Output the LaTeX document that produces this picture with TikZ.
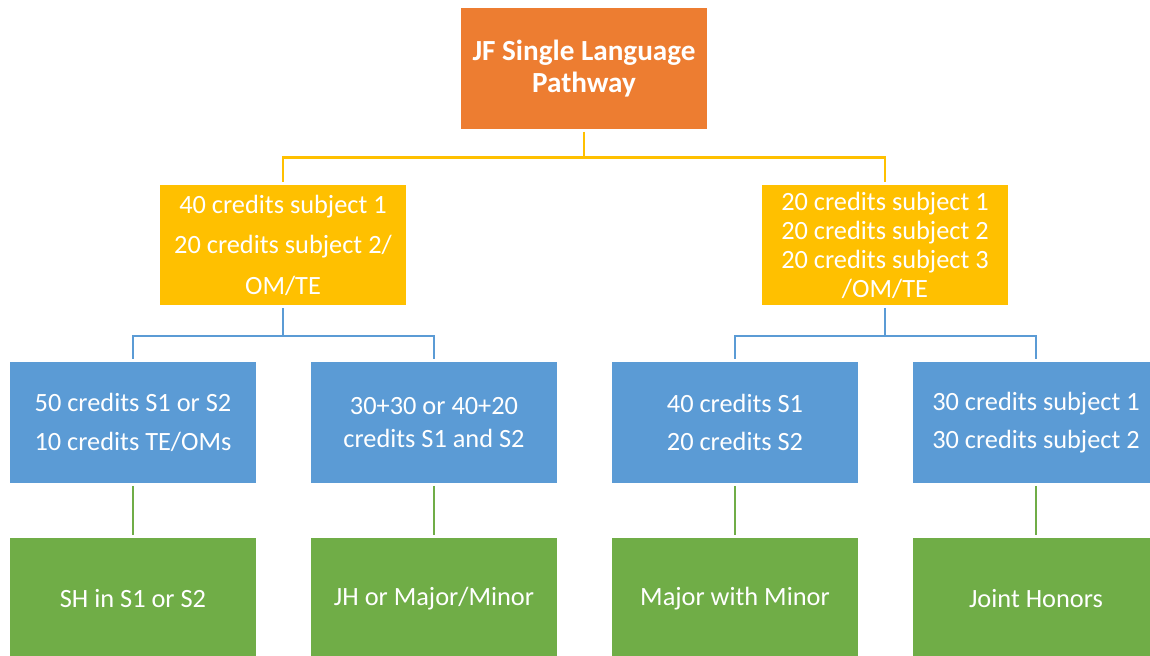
\documentclass[tikz,border=0pt]{standalone}
\usepackage{fontspec}
\setmainfont{Carlito}
\definecolor{boxorange}{HTML}{ED7D31}
\definecolor{boxyellow}{HTML}{FFC000}
\definecolor{boxblue}{HTML}{5B9BD5}
\definecolor{boxgreen}{HTML}{70AD47}
\begin{document}
\begin{tikzpicture}[x=0.02cm,y=-0.02cm,
	box/.style={shape=rectangle,minimum width=4.92cm,minimum height=2.42cm,inner sep=0pt,text=white,align=center},
	root/.style={box,fill=boxorange,font=\fontsize{16.6}{18.5}\selectfont\bfseries},
	level/.style={box,fill=boxyellow},
	credit/.style={box,fill=boxblue,font=\fontsize{15}{22}\selectfont},
	result/.style={box,fill=boxgreen,font=\fontsize{15}{17}\selectfont},
	link/.style={line width=1.5pt,shorten <=1.5pt,shorten >=1.5pt}]
	\clip (0,0) rectangle (1150,656);
	\useasboundingbox (0,0) rectangle (1150,656);

	\node (rootNode) at (584,68.5)[root] {JF Single Language\\Pathway};

	\node (levelA) at (283,245)[level,font=\fontsize{15}{23}\selectfont] {40 credits subject 1\\20 credits subject 2/\\OM/TE};
	\node (levelB) at (885,245)[level,font=\fontsize{15}{16.5}\selectfont] {20 credits subject 1\\20 credits subject 2\\20 credits subject 3\\/OM/TE};

	\node (creditA) at (133,422.5)[credit] {50 credits S1 or S2\\10 credits TE/OMs};
	\node (creditB) at (434,422.5)[credit,font=\fontsize{15}{19}\selectfont] {30+30 or 40+20\\credits S1 and S2};
	\node (creditC) at (735,422.5)[credit] {40 credits S1\\20 credits S2};
	\node (creditD) at (1036,422.5)[credit] {30 credits subject 1\\30 credits subject 2};

	\node (resultA) at (133,598.5)[result] {SH in S1 or S2};
	\node (resultB) at (434,598.5)[result] {JH or Major/Minor};
	\node (resultC) at (735,598.5)[result] {Major with Minor};
	\node (resultD) at (1036,598.5)[result] {Joint Honors};

	\draw[link,boxyellow] (rootNode.south) -- ++(0,28) -| (levelA.north);
	\draw[link,boxyellow] (rootNode.south) -- ++(0,28) -| (levelB.north);

	\draw[link,boxblue] (levelA.south) -- ++(0,30) -| (creditA.north);
	\draw[link,boxblue] (levelA.south) -- ++(0,30) -| (creditB.north);
	\draw[link,boxblue] (levelB.south) -- ++(0,30) -| (creditC.north);
	\draw[link,boxblue] (levelB.south) -- ++(0,30) -| (creditD.north);

	\draw[link,boxgreen] (creditA.south) -- (resultA.north);
	\draw[link,boxgreen] (creditB.south) -- (resultB.north);
	\draw[link,boxgreen] (creditC.south) -- (resultC.north);
	\draw[link,boxgreen] (creditD.south) -- (resultD.north);
\end{tikzpicture}
\end{document}
